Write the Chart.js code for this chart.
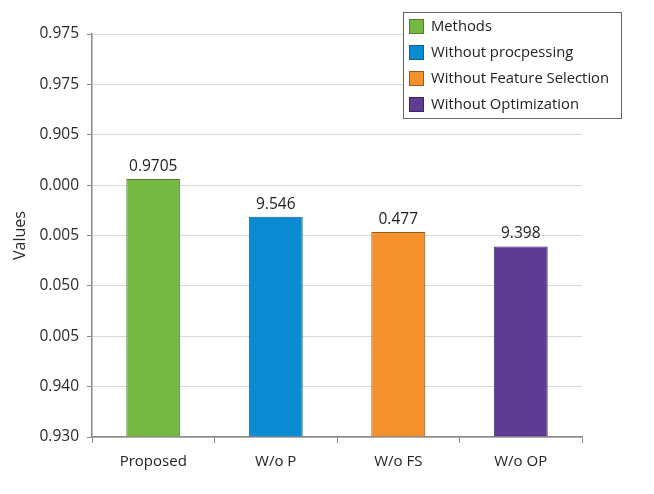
<!DOCTYPE html>
<html>
<head>
<meta charset="utf-8">
<script src="https://cdn.jsdelivr.net/npm/chart.js@4"></script>
<style>
  html, body { margin: 0; padding: 0; background: #fff; }
  #wrap { width: 654px; height: 494px; }
</style>
</head>
<body>
<div id="wrap"><canvas id="methods-chart" width="654" height="494"></canvas></div>
<script>
// categories and values (bar heights in axis steps, tick labels as printed)
const categories = ['Proposed', 'W/o P', 'W/o FS', 'W/o OP'];
const barHeights = [5.12, 4.37, 4.07, 3.78];
const barLabels = ['0.9705', '9.546', '0.477', '9.398'];
const legendNames = ['Methods', 'Without procpessing', 'Without Feature Selection', 'Without Optimization'];
const yTickLabels = ['0.930', '0.940', '0.005', '0.050', '0.005', '0.000', '0.905', '0.975', '0.975'];

const fills = ['#77b744', '#0b8bd1', '#f3922c', '#5d3c92'];
const borders = ['#4f7f2a', '#155f8c', '#9c5a17', '#3b2563'];
const fontFamily = '"Open Sans", "Noto Sans", sans-serif';

const ctx = document.getElementById('methods-chart').getContext('2d');

// value labels above each bar
const barValuePlugin = {
    id: 'barValues',
    afterDatasetsDraw(chart) {
        const c = chart.ctx;
        const meta = chart.getDatasetMeta(0);
        c.save();
        c.font = '15.5px ' + fontFamily;
        c.fillStyle = '#222';
        c.textAlign = 'center';
        c.textBaseline = 'bottom';
        meta.data.forEach((bar, i) => {
            c.fillText(barLabels[i], bar.x, bar.y - 5);
        });
        c.restore();
    }
};

// boxed legend in the upper right of the plot
const boxLegendPlugin = {
    id: 'boxLegend',
    afterDraw(chart) {
        const c = chart.ctx;
        const left = 403, top = 12, w = 218, h = 106;
        c.save();
        c.fillStyle = '#fff';
        c.fillRect(left, top, w, h);
        c.strokeStyle = '#666';
        c.lineWidth = 1;
        c.strokeRect(left + 0.5, top + 0.5, w, h);
        c.font = '14.8px ' + fontFamily;
        c.textBaseline = 'middle';
        c.textAlign = 'left';
        legendNames.forEach((name, i) => {
            const y = top + 14 + i * 26;
            c.fillStyle = fills[i];
            c.fillRect(left + 6, y - 7, 15, 15);
            c.strokeStyle = borders[i];
            c.strokeRect(left + 6.5, y - 6.5, 14, 14);
            c.fillStyle = '#222';
            c.fillText(name, left + 28, y + 1);
        });
        c.restore();
    }
};

const chart = new Chart(ctx, {
    type: 'bar',
    data: {
        labels: categories,
        datasets: [{
            label: 'Values',
            data: barHeights,
            backgroundColor: fills,
            borderColor: borders,
            borderWidth: 1,
            barPercentage: 0.44,
            categoryPercentage: 1.0
        }]
    },
    options: {
        responsive: false,
        animation: false,
        layout: { padding: { left: 0, top: 34, right: 72, bottom: 0 } },
        scales: {
            y: {
                min: 0,
                max: 8,
                afterFit: (scale) => { scale.width = 92; },
                ticks: {
                    stepSize: 1,
                    padding: 8,
                    color: '#2a2a2a',
                    font: { family: fontFamily, size: 15.5 },
                    callback: (value) => yTickLabels[value]
                },
                grid: {
                    color: '#d9d9d9',
                    tickColor: '#888',
                    tickLength: 5
                },
                border: { color: '#888', width: 1.5 },
                title: {
                    display: true,
                    text: 'Values',
                    color: '#2a2a2a',
                    font: { family: fontFamily, size: 16 },
                    padding: { top: 11, bottom: 0 }
                }
            },
            x: {
                afterFit: (scale) => { scale.height = 57; },
                ticks: {
                    padding: 10,
                    color: '#222',
                    font: { family: fontFamily, size: 15 }
                },
                grid: {
                    offset: true,
                    drawOnChartArea: false,
                    tickColor: '#888',
                    tickLength: 6
                },
                border: { color: '#888', width: 1.5 }
            }
        },
        plugins: {
            legend: { display: false },
            tooltip: { enabled: false }
        }
    },
    plugins: [barValuePlugin, boxLegendPlugin]
});
</script>
</body>
</html>
